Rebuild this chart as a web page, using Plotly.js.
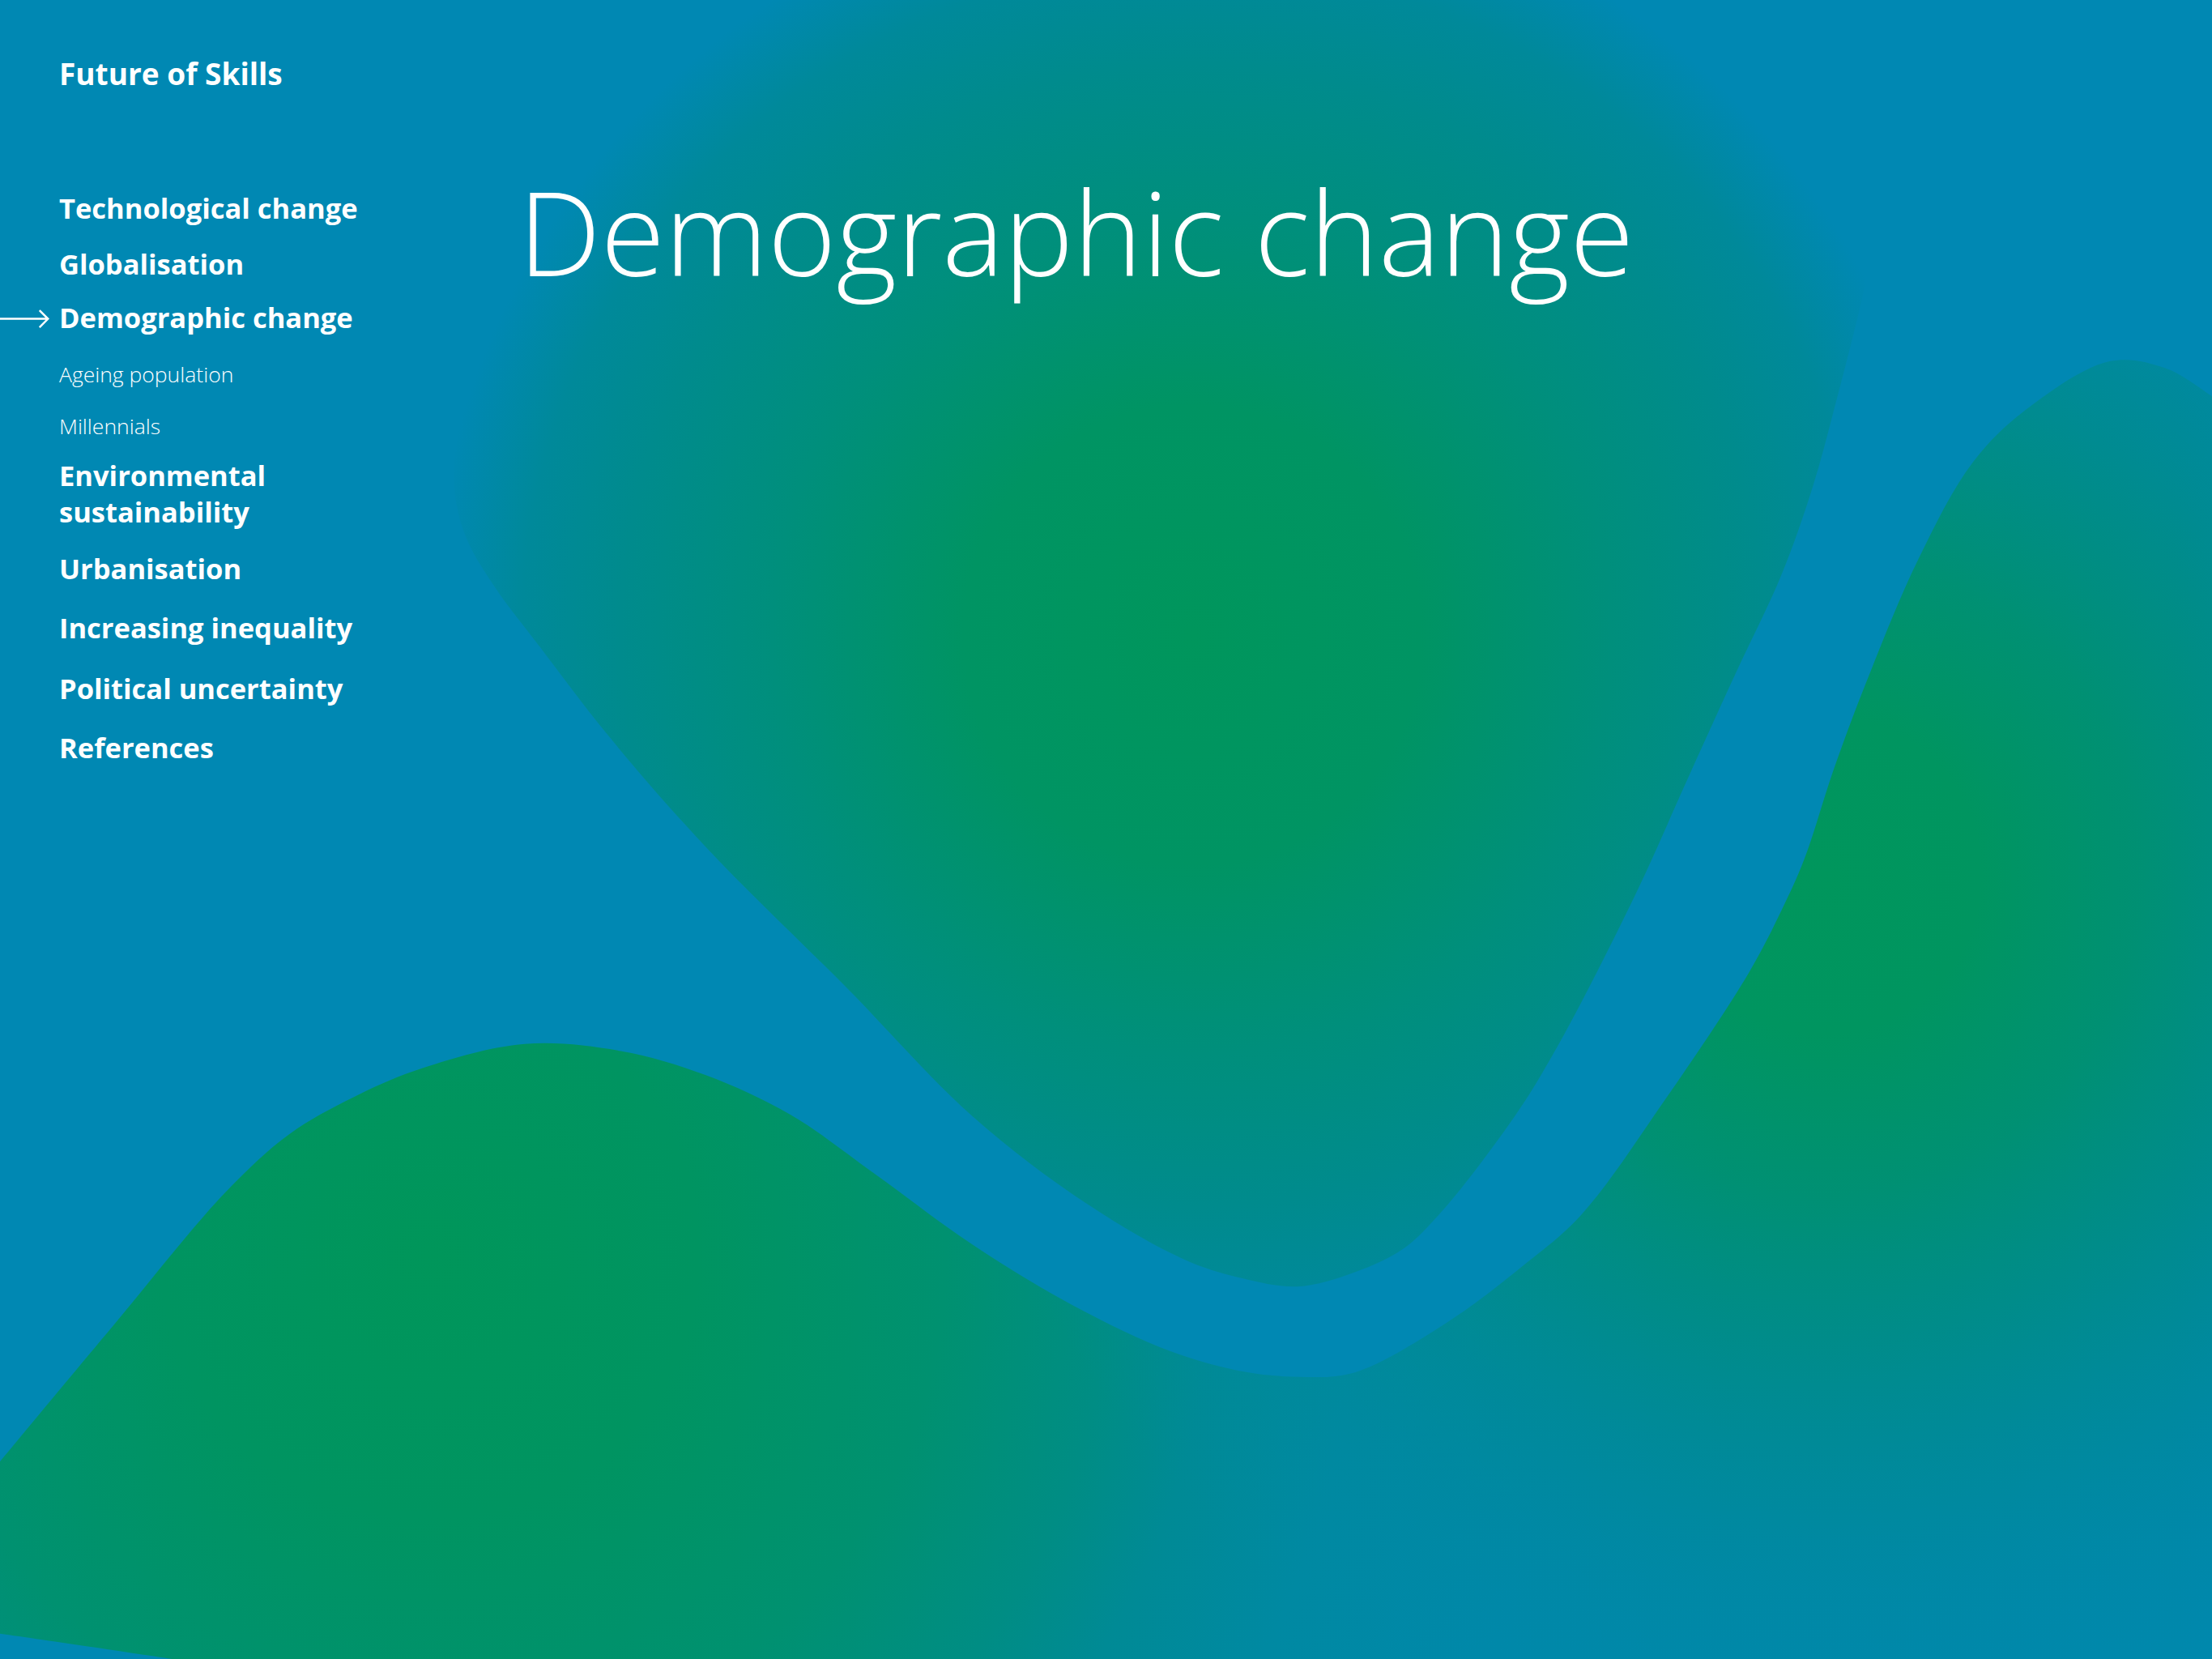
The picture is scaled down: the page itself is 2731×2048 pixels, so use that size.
<!DOCTYPE html>
<html>
<head>
<meta charset="utf-8">
<script src="https://cdn.plot.ly/plotly-3.0.1.min.js"></script>
<style>
  html, body { margin: 0; padding: 0; background: #0088b3; overflow: hidden; }
</style>
</head>
<body>
<div id="slide" style="width:2731px;height:2048px"></div>
<script>
var bg = "#0088b3";

// upper wave in 1568 x 1176 units (y grows downwards)
var upperX = [495, 470, 440, 400, 365, 340, 326, 322, 330, 350, 383, 430, 500, 600, 689, 770, 840, 880, 920, 960,
  995, 1020, 1050, 1080, 1105, 1132, 1165, 1195, 1230, 1263, 1285, 1302, 1318, 1334, 1350, 1365, 1374];
var upperY = [-40, 0, 50, 120, 190, 250, 300, 345, 380, 415, 459, 520, 600, 700, 791, 853, 893, 906, 912, 902,
  885, 861, 824, 782, 740, 689, 622, 555, 478, 407, 345, 283, 220, 150, 80, 10, -40];

// lower wave: crest from the left edge to the right edge, then round the right side off screen
var crestX = [-60, -30, 0, 80, 160, 205, 250, 300, 372, 440, 500, 560, 620, 689, 760, 830, 880, 920, 960, 1025,
  1080, 1121, 1180, 1240, 1263, 1279, 1300, 1322, 1360, 1399, 1438, 1496, 1535, 1568, 1600, 1630, 1700, 1700];
var crestY = [1108, 1072, 1036, 940, 845, 804, 778, 757, 740, 745, 762, 790, 832, 882, 925, 958, 972, 976, 973, 938,
  897, 861, 780, 689, 645, 609, 545, 486, 396, 327, 289, 256, 261, 281, 305, 335, 430, 1205];
// lower wave: bottom edge, right to left (only its left end shows)
var baseX = [900, 300, 200, 122, 0, -30, -60];
var baseY = [1205, 1202, 1188, 1176, 1158, 1154, 1149];

// where each glow sits: centre and reach
var upperGlow = { cx: 845, cy: 450, rx: 540, ry: 540 };
var leftGlow = { cx: 270, cy: 889, rx: 1430, ry: 1430 };
var rightGlow = { cx: 1292, cy: 620, rx: 1400, ry: 1400 };

// radial gradients (0 = centre, 1 = reach)
var upperScale = [[0, "#00965c"], [0.3, "#009463"], [0.55, "#008f7c"], [0.75, "#008b8d"], [0.88, "#00899a"],
  [1, bg]];
var leftScale = [[0, "#00965a"], [0.13, "#009461"], [0.25, "#009170"], [0.33, "#008d84"], [0.38, "#008a95"],
  [0.45, "#0089a2"], [0.55, "#0088aa"], [1, "#0088ae"]];
var rightScale = [[0, "rgba(0,150,92,1)"], [0.08, "rgba(0,149,96,1)"], [0.16, "rgba(0,145,110,0.92)"],
  [0.24, "rgba(0,141,128,0.75)"], [0.3, "rgba(0,139,140,0.55)"], [0.37, "rgba(0,137,152,0.28)"],
  [0.45, "rgba(0,136,165,0)"], [1, "rgba(0,136,165,0)"]];

// nav
var navLabels = ["Technological change", "Globalisation", "Demographic change", "Ageing population", "Millennials",
  "Environmental<br>sustainability", "Urbanisation", "Increasing inequality", "Political uncertainty", "References"];
var navRows = [147, 187, 225, 265, 302, 349.5, 403, 445, 488, 530];
var navSub = [false, false, false, true, true, false, false, false, false, false];

// plotly centres a radial fill on the path's box, so two tiny marker
// triangles (off screen or under the lower wave) stretch the box to the glow
function withGlowBox(xs, ys, g) {
  var x0 = g.cx - g.rx, x1 = g.cx + g.rx, y0 = g.cy - g.ry, y1 = g.cy + g.ry;
  return {
    x: xs.concat([null, x0, x0 + 4, x0, null, x1, x1 - 4, x1]),
    y: ys.concat([null, y0, y0, y0 + 4, null, y1, y1, y1 - 4])
  };
}

function wave(pts, scale) {
  return {
    x: pts.x, y: pts.y,
    type: "scatter", mode: "lines", fill: "toself", connectgaps: false,
    line: { width: 0, shape: "spline", smoothing: 1, simplify: false },
    fillgradient: { type: "radial", colorscale: scale },
    hoverinfo: "skip"
  };
}

var lowerX = crestX.concat(baseX);
var lowerY = crestY.concat(baseY);

var data = [
  wave(withGlowBox(upperX, upperY, upperGlow), upperScale),
  wave(withGlowBox(lowerX, lowerY, leftGlow), leftScale),
  wave(withGlowBox(lowerX, lowerY, rightGlow), rightScale)
];

var annotations = [{
  text: "Future of Skills", x: 40.5, y: 52, xref: "x", yref: "y",
  xanchor: "left", yanchor: "middle", showarrow: false,
  font: { family: "Open Sans", size: 37, color: "#ffffff", weight: 700 }
}];
navLabels.forEach(function (label, i) {
  annotations.push({
    text: label, x: 40.5, y: navRows[i], xref: "x", yref: "y",
    xanchor: "left", yanchor: "middle", align: "left", showarrow: false,
    font: navSub[i]
      ? { family: "Open Sans", size: 26.5, color: "#ffffff", weight: 300 }
      : { family: "Open Sans", size: 34.5, color: "#ffffff", weight: 700 }
  });
});

var layout = {
  width: 2731,
  height: 2048,
  margin: { l: 0, r: 0, t: 0, b: 0, pad: 0 },
  paper_bgcolor: bg,
  plot_bgcolor: bg,
  showlegend: false,
  xaxis: { range: [0, 1568], visible: false, fixedrange: true },
  yaxis: { range: [1176, 0], visible: false, fixedrange: true },
  title: {
    text: "Demographic change",
    x: 640 / 2731, xanchor: "left",
    y: 1 - 291 / 2048, yanchor: "middle",
    font: { family: "Open Sans", size: 144, color: "#ffffff", weight: 300 }
  },
  annotations: annotations,
  shapes: [{
    type: "path", xref: "x", yref: "y",
    path: "M0,226 L34,226 M28,220 L34,226 L28,232",
    line: { color: "#ffffff", width: 2.5 }
  }]
};

Plotly.newPlot("slide", data, layout, { displayModeBar: false, staticPlot: true });
</script>
</body>
</html>
